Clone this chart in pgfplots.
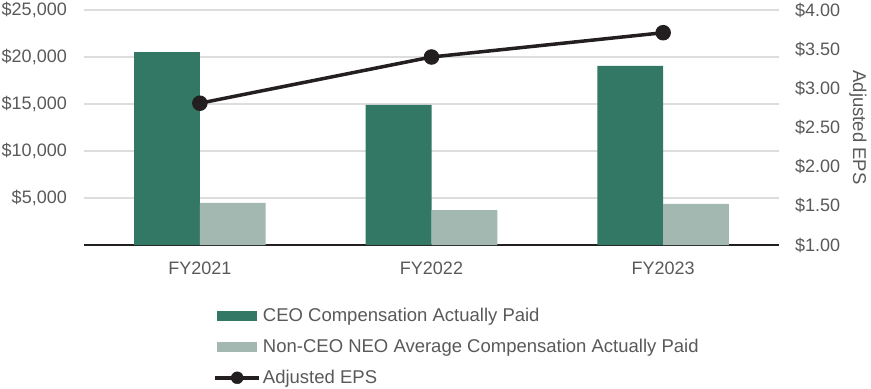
\documentclass[border=0pt]{standalone}
\usepackage{fontspec}
\setmainfont{Liberation Sans}
\usepackage{pgfplots}
\pgfplotsset{compat=1.18}
\usetikzlibrary{calc}
\definecolor{ceo}{HTML}{327864}
\definecolor{neo}{HTML}{A3B8B0}
\definecolor{txt}{HTML}{595959}
\definecolor{ln}{HTML}{231F20}
\definecolor{grd}{HTML}{DDDDDD}
\begin{document}
\begin{tikzpicture}
\pgfplotsset{
  common/.style={
    scale only axis, width=695bp, height=235bp,
    xmin=-0.5, xmax=2.5,
    major tick length=0pt,
    scaled y ticks=false,
    tick label style={font=\fontsize{18bp}{22bp}\selectfont, text=txt},
    /pgf/number format/assume math mode=true,
  }
}
\begin{axis}[common, name=ax,
  ymin=0, ymax=25000,
  axis x line*=bottom, axis y line*=left,
  x axis line style={-, draw=ln, line width=2.5bp},
  y axis line style={draw=none},
  xtick={0,1,2}, xticklabels={FY2021,FY2022,FY2023},
  xticklabel style={inner sep=0pt, anchor=north, yshift=-17bp},
  ytick={5000,10000,15000,20000,25000},
  yticklabels={{\$5,000},{\$10,000},{\$15,000},{\$20,000},{\$25,000}},
  yticklabel style={inner sep=0pt, anchor=east, xshift=-17bp},
  ymajorgrids, grid style={draw=grd, line width=1.2bp},
  legend style={draw=none, fill=none, at={(0.186,-0.261)}, anchor=north west,
    font=\fontsize{18.5bp}{22bp}\selectfont, text=txt, row sep=12bp,
    inner sep=0pt, nodes={inner sep=2bp}},
  legend cell align=left,
]
\addplot[ybar, bar width=0.284, bar shift=-0.142, fill=ceo, draw=none,
  legend image code/.code={\fill[ceo] (0bp,-5bp) rectangle (40bp,5bp);}]
  coordinates {(0,20530) (1,14900) (2,19050)};
\addlegendentry{CEO Compensation Actually Paid}
\addplot[ybar, bar width=0.284, bar shift=0.142, fill=neo, draw=none,
  legend image code/.code={\fill[neo] (0bp,-5bp) rectangle (40bp,5bp);}]
  coordinates {(0,4470) (1,3720) (2,4370)};
\addlegendentry{Non-CEO NEO Average Compensation Actually Paid}
\addlegendimage{legend image code/.code={\draw[ln, line width=3.5bp] (-2bp,0)--(42bp,0); \fill[ln] (20bp,0) circle (6bp);}}
\addlegendentry{Adjusted EPS}
\end{axis}
\begin{axis}[common,
  ymin=1, ymax=4,
  axis x line=none, axis y line*=right,
  y axis line style={draw=none},
  ytick={1,1.5,2,2.5,3,3.5,4},
  yticklabels={{\$1.00},{\$1.50},{\$2.00},{\$2.50},{\$3.00},{\$3.50},{\$4.00}},
  yticklabel style={inner sep=0pt, anchor=west, xshift=16bp},
]
\addplot[ln, line width=3.5bp, mark=*, mark size=6bp, mark options={fill=ln}]
  coordinates {(0,2.81) (1,3.40) (2,3.71)};
\end{axis}
\node[rotate=-90, anchor=center, inner sep=0pt, text=txt, font=\fontsize{18.5bp}{22bp}\selectfont]
  at ($(ax.east)+(79bp,0)$) {Adjusted EPS};
\pgfresetboundingbox
\path ($(ax.south west)+(-84bp,-144bp)$) rectangle ($(ax.south west)+(787bp,245bp)$);
\end{tikzpicture}
\end{document}
